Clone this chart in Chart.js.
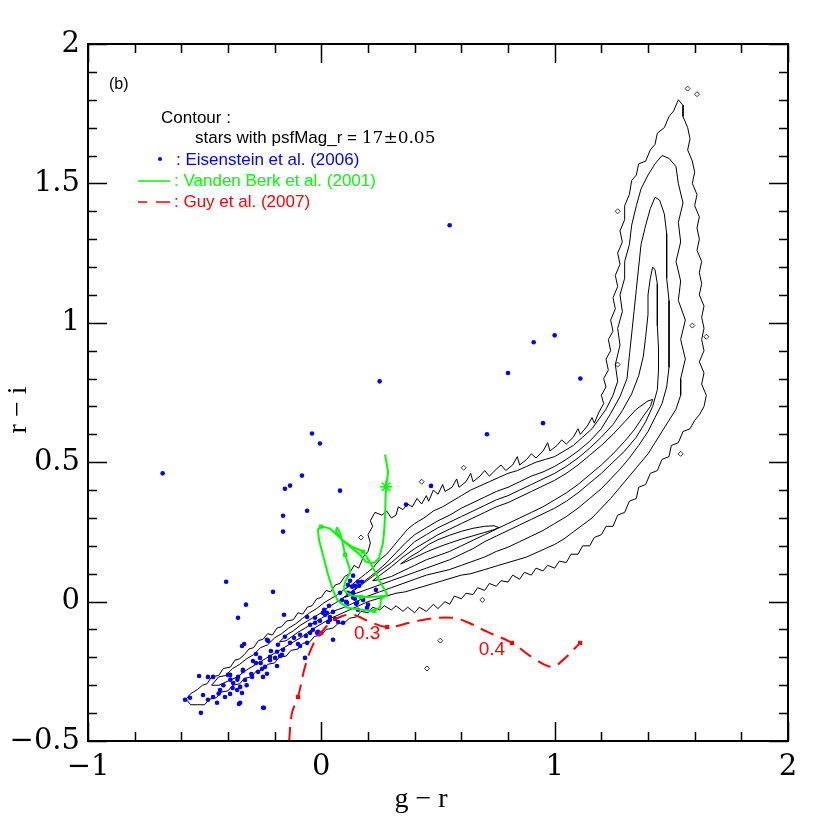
<!DOCTYPE html>
<html>
<head>
<meta charset="utf-8">
<script src="https://cdn.jsdelivr.net/npm/chart.js@4.4.0/dist/chart.umd.min.js"></script>
<style>
  html, body { margin: 0; padding: 0; background: #fff; }
  #wrap { width: 830px; height: 830px; }
</style>
</head>
<body>
<div id="wrap"><canvas id="ccd" width="830" height="830"></canvas></div>
<script>
// axis ticks
const xTickVals = [-1, 0, 1, 2];
const xTickLabels = ["\u22121", "0", "1", "2"];
const yTickVals = [-0.5, 0, 0.5, 1, 1.5, 2];
const yTickLabels = ["\u22120.5", "0", "0.5", "1", "1.5", "2"];

// Eisenstein et al. (2006) objects, [g-r, r-i]
const eisenstein = [
  [-0.68, 0.46], [0.55, 1.35], [1.00, 0.955], [0.91, 0.93], [1.11, 0.80], [0.80, 0.82], [0.25, 0.79],
  [0.71, 0.60], [0.95, 0.64], [0.47, 0.415], [0.363, 0.348],
  [-0.04, 0.603], [-0.006, 0.567], [-0.083, 0.452], [-0.134, 0.416], [-0.156, 0.405], [0.08, 0.398],
  [-0.061, 0.326], [-0.164, 0.308], [-0.164, 0.251],
  [-0.408, 0.071], [-0.207, 0.035], [-0.323, -0.011], [-0.357, -0.058], [-0.16, -0.047],
  [-0.233, -0.137], [-0.228, -0.141], [-0.34, -0.159], [-0.331, -0.152], [-0.293, -0.213], [-0.28, -0.188],
  [-0.263, -0.202], [-0.22, -0.198], [-0.216, -0.177], [-0.19, -0.18], [-0.19, -0.231], [-0.177, -0.195],
  [-0.241, -0.234], [-0.254, -0.241], [-0.271, -0.252], [-0.25, -0.27], [-0.233, -0.259], [-0.297, -0.27],
  [-0.336, -0.245], [-0.327, -0.281], [-0.357, -0.27], [-0.378, -0.292], [-0.348, -0.306], [-0.361, -0.317],
  [-0.34, -0.328], [-0.391, -0.331], [-0.40, -0.263], [-0.464, -0.27], [-0.486, -0.27], [-0.434, -0.317],
  [-0.464, -0.342], [-0.486, -0.352], [-0.507, -0.335], [-0.447, -0.363], [-0.413, -0.342], [-0.348, -0.363],
  [-0.25, -0.381], [-0.42, -0.30], [-0.38, -0.31], [-0.44, -0.33], [-0.36, -0.28], [-0.39, -0.28],
  [-0.32, -0.30], [-0.30, -0.26], [-0.28, -0.22], [-0.26, -0.22], [-0.22, -0.21],
  [-0.10, -0.152], [-0.091, -0.119], [-0.066, -0.123], [-0.048, -0.112], [-0.036, -0.101], [-0.018, -0.112],
  [-0.014, -0.108], [-0.027, -0.076], [-0.006, -0.069], [0.012, -0.029], [0.024, -0.04], [0.037, -0.055],
  [0.05, -0.037], [0.059, -0.062], [0.072, -0.073], [0.093, -0.076], [0.029, -0.073], [0.05, -0.137],
  [-0.07, -0.202], [-0.156, -0.126], [-0.134, -0.148], [-0.117, -0.13], [-0.186, -0.155], [-0.164, -0.173],
  [-0.198, -0.202], [-0.091, -0.159], [-0.048, -0.083], [-0.061, -0.148], [-0.027, -0.058],
  [0.114, 0.032], [0.132, 0.053], [0.157, 0.071], [0.08, 0.032], [0.136, 0.014], [0.153, -0.004],
  [0.179, 0.006], [0.196, -0.022], [0.157, -0.029], [0.11, -0.004], [0.089, 0.006],
  [-0.524, -0.267], [-0.584, -0.352], [-0.563, -0.345], [-0.516, -0.399], [-0.246, -0.381], [-0.353, -0.367],
  [-0.391, -0.263], [-0.336, -0.249], [0.016, -0.047],
  [0.136, 0.093], [0.174, 0.071], [0.123, 0.075], [0.144, 0.057], [0.162, 0.057], [0.234, 0.042],
  [0.136, 0.032], [0.106, -0.001], [0.144, 0.01], [0.149, -0.008], [0.2, -0.011], [0.033, -0.015],
  [-0.061, -0.055], [0.007, -0.04], [0.037, -0.065], [-0.169, -0.191], [0.114, 0.06]
];

// Vanden Berk et al. (2001) composite track
const vandenBerk = [
  [0.273, 0.527], [0.286, 0.463], [0.277, 0.412], [0.273, 0.305], [0.264, 0.211], [0.247, 0.157],
  [0.226, 0.139], [0.191, 0.143], [0.166, 0.168], [0.123, 0.197], [0.080, 0.229], [0.037, 0.262],
  [-0.001, 0.269], [-0.014, 0.258], [-0.010, 0.222], [0.007, 0.168], [0.029, 0.096], [0.050, 0.042],
  [0.072, 0.003], [0.114, -0.022], [0.174, -0.029], [0.226, -0.033], [0.252, -0.019], [0.256, 0.010],
  [0.282, 0.024], [0.252, 0.071], [0.217, 0.129], [0.179, 0.179], [0.132, 0.197], [0.089, 0.222],
  [0.063, 0.254], [0.067, 0.265], [0.080, 0.247], [0.093, 0.204], [0.102, 0.168], [0.119, 0.125],
  [0.123, 0.103], [0.102, 0.071], [0.097, 0.042], [0.123, 0.024], [0.170, 0.017], [0.217, 0.017],
  [0.273, 0.021]
];
const vandenBerkSquares = [[-0.001, 0.269], [0.179, 0.179], [0.102, 0.168], [0.170, 0.017], [0.226, -0.033]];
const vandenBerkStar = [[0.277, 0.412]];

// Guy et al. (2007) track
const guy = [
  [-0.138, -0.50], [-0.126, -0.400], [-0.100, -0.342], [-0.070, -0.234], [-0.036, -0.155], [-0.001, -0.112],
  [0.037, -0.076], [0.080, -0.055], [0.136, -0.047], [0.209, -0.073], [0.282, -0.091], [0.393, -0.073],
  [0.457, -0.062], [0.564, -0.058], [0.624, -0.073], [0.710, -0.108], [0.817, -0.148], [0.907, -0.202],
  [0.989, -0.234], [1.036, -0.209], [1.109, -0.148]
];
const guySquares = [[-0.100, -0.342], [-0.001, -0.112], [0.282, -0.091], [0.817, -0.148], [1.109, -0.148]];
const guyLabels = [{ at: 2, text: "0.3" }, { at: 3, text: "0.4" }];

// stellar locus contours, outer to inner
const contourA = [
  [-0.58, -0.35], [-0.56, -0.33], [-0.53, -0.315], [-0.51, -0.30], [-0.49, -0.295], [-0.47, -0.27], [-0.44, -0.265],
  [-0.42, -0.24], [-0.39, -0.235], [-0.37, -0.21], [-0.35, -0.205], [-0.33, -0.19], [-0.31, -0.17], [-0.29, -0.165],
  [-0.27, -0.14], [-0.25, -0.135], [-0.23, -0.115], [-0.21, -0.12], [-0.19, -0.095], [-0.17, -0.09], [-0.15, -0.07],
  [-0.12, -0.065], [-0.10, -0.04], [-0.08, -0.045], [-0.06, -0.02], [-0.04, -0.015], [-0.02, 0.01], [0.00, 0.015],
  [0.02, 0.04], [0.04, 0.035], [0.06, 0.06], [0.08, 0.065], [0.10, 0.09], [0.12, 0.10], [0.14, 0.13], [0.16, 0.12],
  [0.18, 0.16], [0.20, 0.18], [0.21, 0.21], [0.20, 0.24], [0.22, 0.27], [0.21, 0.29], [0.23, 0.32], [0.26, 0.31],
  [0.28, 0.325], [0.30, 0.30], [0.32, 0.31], [0.33, 0.34], [0.35, 0.33], [0.37, 0.35], [0.39, 0.34], [0.41, 0.37],
  [0.43, 0.35], [0.45, 0.38], [0.46, 0.36], [0.48, 0.40], [0.50, 0.385], [0.52, 0.42], [0.53, 0.395], [0.56, 0.41],
  [0.58, 0.44], [0.59, 0.41], [0.62, 0.43], [0.64, 0.46], [0.65, 0.43], [0.68, 0.45], [0.70, 0.47], [0.72, 0.45],
  [0.75, 0.475], [0.77, 0.49], [0.79, 0.47], [0.82, 0.49], [0.84, 0.52], [0.85, 0.49], [0.88, 0.51], [0.90, 0.53],
  [0.92, 0.515], [0.95, 0.54], [0.97, 0.57], [0.98, 0.54], [1.01, 0.56], [1.03, 0.58], [1.05, 0.565], [1.08, 0.59],
  [1.10, 0.62], [1.11, 0.60], [1.14, 0.63], [1.16, 0.66], [1.17, 0.64], [1.19, 0.68], [1.21, 0.71], [1.20, 0.74],
  [1.22, 0.77], [1.21, 0.80], [1.23, 0.83], [1.22, 0.87], [1.24, 0.90], [1.23, 0.94], [1.25, 0.97], [1.24, 1.01],
  [1.26, 1.05], [1.25, 1.09], [1.27, 1.13], [1.26, 1.17], [1.28, 1.21], [1.27, 1.25], [1.29, 1.29], [1.28, 1.33],
  [1.30, 1.37], [1.30, 1.42], [1.32, 1.46], [1.33, 1.51], [1.35, 1.53], [1.36, 1.57], [1.39, 1.58], [1.41, 1.62],
  [1.43, 1.64], [1.44, 1.68], [1.47, 1.70], [1.49, 1.74], [1.51, 1.76], [1.53, 1.80],
  [1.55, 1.78], [1.55, 1.74], [1.57, 1.70], [1.58, 1.66], [1.57, 1.62], [1.59, 1.58], [1.60, 1.54], [1.59, 1.50],
  [1.61, 1.46], [1.60, 1.42], [1.62, 1.38], [1.61, 1.34], [1.62, 1.30], [1.61, 1.26], [1.63, 1.22], [1.62, 1.18],
  [1.63, 1.14], [1.62, 1.10], [1.64, 1.06], [1.63, 1.02], [1.64, 0.98], [1.63, 0.94], [1.64, 0.90], [1.62, 0.86],
  [1.64, 0.82], [1.63, 0.78], [1.65, 0.74], [1.64, 0.70], [1.62, 0.67], [1.60, 0.65], [1.58, 0.62], [1.55, 0.61],
  [1.53, 0.57], [1.50, 0.56], [1.49, 0.52], [1.46, 0.51], [1.44, 0.47], [1.41, 0.46], [1.39, 0.42], [1.36, 0.41],
  [1.35, 0.37], [1.32, 0.36], [1.30, 0.32], [1.27, 0.31], [1.25, 0.27], [1.22, 0.27], [1.20, 0.24], [1.17, 0.23],
  [1.15, 0.20], [1.12, 0.20], [1.10, 0.17], [1.07, 0.17], [1.05, 0.14], [1.02, 0.145], [1.00, 0.12], [0.97, 0.13],
  [0.95, 0.11], [0.92, 0.12], [0.90, 0.095], [0.87, 0.105], [0.85, 0.08], [0.82, 0.095], [0.80, 0.07], [0.77, 0.075],
  [0.75, 0.055], [0.72, 0.065], [0.70, 0.04], [0.67, 0.05], [0.65, 0.025], [0.62, 0.03], [0.60, 0.01], [0.57, 0.02],
  [0.55, -0.01], [0.53, 0.00], [0.50, -0.025], [0.48, -0.01], [0.45, -0.035], [0.42, -0.02], [0.40, -0.04],
  [0.37, -0.02], [0.35, -0.035], [0.32, -0.015], [0.30, -0.03], [0.27, -0.015], [0.25, -0.03], [0.22, -0.02],
  [0.20, -0.04], [0.17, -0.035], [0.15, -0.055], [0.12, -0.06], [0.10, -0.075], [0.07, -0.08], [0.05, -0.095],
  [0.02, -0.10], [0.00, -0.12], [-0.03, -0.125], [-0.05, -0.145], [-0.08, -0.15], [-0.10, -0.17], [-0.13, -0.175],
  [-0.15, -0.195], [-0.18, -0.20], [-0.20, -0.22], [-0.23, -0.225], [-0.25, -0.245], [-0.28, -0.25], [-0.30, -0.27],
  [-0.33, -0.275], [-0.35, -0.295], [-0.38, -0.30], [-0.40, -0.32], [-0.43, -0.325], [-0.45, -0.345], [-0.48, -0.35],
  [-0.50, -0.37], [-0.53, -0.37], [-0.56, -0.37], [-0.58, -0.35]
];
const contourB = [
  [-0.47, -0.30], [-0.44, -0.27], [-0.41, -0.265], [-0.38, -0.24], [-0.35, -0.225], [-0.32, -0.205], [-0.29, -0.19],
  [-0.26, -0.165], [-0.23, -0.155], [-0.20, -0.13], [-0.17, -0.115], [-0.14, -0.095], [-0.11, -0.08], [-0.08, -0.06],
  [-0.05, -0.04], [-0.02, -0.025], [0.01, -0.005], [0.04, 0.01], [0.07, 0.025], [0.10, 0.045], [0.13, 0.06],
  [0.16, 0.08], [0.19, 0.10], [0.22, 0.12], [0.25, 0.15], [0.28, 0.17], [0.31, 0.20], [0.34, 0.23], [0.37, 0.26],
  [0.40, 0.28], [0.44, 0.30], [0.48, 0.325], [0.52, 0.34], [0.56, 0.36], [0.60, 0.38], [0.64, 0.40], [0.68, 0.415],
  [0.72, 0.43], [0.76, 0.445], [0.80, 0.46], [0.84, 0.47], [0.88, 0.485], [0.92, 0.50], [0.96, 0.51], [1.00, 0.52],
  [1.04, 0.54], [1.08, 0.56], [1.12, 0.59], [1.16, 0.62], [1.19, 0.655], [1.22, 0.69], [1.25, 0.74], [1.27, 0.79],
  [1.26, 0.85], [1.28, 0.92], [1.27, 0.98], [1.29, 1.04], [1.28, 1.10], [1.30, 1.16], [1.30, 1.22], [1.32, 1.28],
  [1.33, 1.35], [1.35, 1.42], [1.37, 1.48], [1.40, 1.53], [1.43, 1.57], [1.46, 1.60],
  [1.49, 1.59], [1.52, 1.56], [1.53, 1.50], [1.55, 1.43], [1.53, 1.36], [1.54, 1.29], [1.52, 1.22], [1.54, 1.15],
  [1.53, 1.08], [1.56, 1.01], [1.54, 0.94], [1.56, 0.87], [1.54, 0.80], [1.54, 0.74], [1.52, 0.69], [1.49, 0.65],
  [1.46, 0.61], [1.43, 0.57], [1.40, 0.53], [1.36, 0.49], [1.32, 0.45], [1.28, 0.41], [1.24, 0.37], [1.20, 0.335],
  [1.16, 0.30], [1.12, 0.275], [1.08, 0.25], [1.04, 0.225], [1.00, 0.205], [0.96, 0.19], [0.92, 0.175], [0.88, 0.16],
  [0.84, 0.15], [0.80, 0.14], [0.76, 0.13], [0.72, 0.12], [0.68, 0.11], [0.64, 0.10], [0.60, 0.095], [0.56, 0.085],
  [0.52, 0.075], [0.48, 0.065], [0.44, 0.055], [0.40, 0.045], [0.36, 0.035], [0.32, 0.03], [0.28, 0.02], [0.24, 0.01],
  [0.20, 0.00], [0.16, -0.015], [0.12, -0.03], [0.08, -0.045], [0.04, -0.06], [0.00, -0.08], [-0.04, -0.10],
  [-0.08, -0.125], [-0.12, -0.145], [-0.16, -0.165], [-0.20, -0.185], [-0.24, -0.205], [-0.28, -0.225],
  [-0.32, -0.245], [-0.36, -0.27], [-0.40, -0.285], [-0.44, -0.30], [-0.47, -0.30]
];
const contourC = [
  [-0.18, -0.145], [-0.15, -0.12], [-0.12, -0.105], [-0.09, -0.085], [-0.06, -0.07], [-0.03, -0.055], [0.00, -0.04],
  [0.03, -0.02], [0.06, -0.005], [0.09, 0.012], [0.12, 0.03], [0.15, 0.05], [0.18, 0.07], [0.21, 0.09], [0.24, 0.11],
  [0.28, 0.14], [0.32, 0.175], [0.36, 0.21], [0.40, 0.24], [0.45, 0.265], [0.50, 0.29], [0.55, 0.31], [0.60, 0.335],
  [0.65, 0.355], [0.70, 0.375], [0.75, 0.395], [0.80, 0.41], [0.85, 0.43], [0.90, 0.45], [0.95, 0.465], [1.00, 0.485],
  [1.05, 0.51], [1.10, 0.54], [1.15, 0.575], [1.20, 0.62], [1.24, 0.675], [1.28, 0.735], [1.31, 0.80], [1.32, 0.88],
  [1.33, 0.96], [1.34, 1.04], [1.35, 1.12], [1.36, 1.20], [1.37, 1.28], [1.39, 1.35], [1.41, 1.41], [1.43, 1.45],
  [1.45, 1.44], [1.47, 1.39], [1.48, 1.32], [1.48, 1.24], [1.48, 1.16], [1.49, 1.08], [1.49, 1.00], [1.49, 0.92],
  [1.49, 0.84], [1.48, 0.77], [1.46, 0.71], [1.43, 0.66], [1.40, 0.61], [1.36, 0.56], [1.32, 0.515], [1.28, 0.475],
  [1.24, 0.44], [1.20, 0.405], [1.15, 0.37], [1.10, 0.335], [1.05, 0.305], [1.00, 0.28], [0.95, 0.255], [0.90, 0.235],
  [0.85, 0.215], [0.80, 0.195], [0.75, 0.18], [0.70, 0.16], [0.65, 0.145], [0.60, 0.13], [0.55, 0.115], [0.50, 0.105],
  [0.45, 0.095], [0.40, 0.08], [0.35, 0.065], [0.30, 0.05], [0.25, 0.035], [0.20, 0.02], [0.15, 0.00], [0.10, -0.02],
  [0.05, -0.035], [0.00, -0.06], [-0.05, -0.085], [-0.10, -0.11], [-0.15, -0.14], [-0.18, -0.145]
];
const contourD = [
  [0.10, 0.015], [0.14, 0.04], [0.18, 0.065], [0.22, 0.09], [0.26, 0.115], [0.30, 0.14], [0.35, 0.175], [0.40, 0.215],
  [0.45, 0.24], [0.50, 0.265], [0.55, 0.285], [0.60, 0.305], [0.65, 0.325], [0.70, 0.345], [0.75, 0.365], [0.80, 0.38],
  [0.85, 0.40], [0.90, 0.42], [0.95, 0.44], [1.00, 0.46], [1.05, 0.485], [1.10, 0.515], [1.15, 0.55], [1.20, 0.59],
  [1.25, 0.635], [1.29, 0.685], [1.33, 0.745], [1.36, 0.81], [1.38, 0.88], [1.39, 0.95], [1.40, 1.03], [1.40, 1.10],
  [1.41, 1.16], [1.42, 1.20],
  [1.43, 1.19], [1.44, 1.14], [1.44, 1.07], [1.44, 0.99], [1.445, 0.91], [1.445, 0.83], [1.44, 0.76], [1.42, 0.70],
  [1.39, 0.645], [1.35, 0.59], [1.30, 0.54], [1.25, 0.50], [1.20, 0.46], [1.15, 0.425], [1.10, 0.39], [1.05, 0.36],
  [1.00, 0.335], [0.95, 0.315], [0.90, 0.295], [0.85, 0.275], [0.80, 0.255], [0.75, 0.235], [0.70, 0.215],
  [0.65, 0.19], [0.60, 0.17], [0.55, 0.15], [0.50, 0.135], [0.45, 0.12], [0.40, 0.105], [0.35, 0.09], [0.30, 0.075],
  [0.25, 0.06], [0.20, 0.045], [0.15, 0.03], [0.10, 0.015]
];
const contourE = [
  [0.22, 0.075], [0.26, 0.10], [0.30, 0.125], [0.35, 0.16], [0.40, 0.19], [0.45, 0.215], [0.50, 0.24], [0.55, 0.26],
  [0.60, 0.28], [0.65, 0.30], [0.70, 0.32], [0.75, 0.34], [0.80, 0.355], [0.85, 0.375], [0.90, 0.395], [0.95, 0.415],
  [1.00, 0.435], [1.05, 0.46], [1.10, 0.49], [1.15, 0.525], [1.20, 0.56], [1.25, 0.60], [1.30, 0.645], [1.35, 0.69],
  [1.40, 0.72], [1.42, 0.725],
  [1.41, 0.70], [1.38, 0.665], [1.34, 0.615], [1.30, 0.575], [1.25, 0.53], [1.20, 0.49], [1.15, 0.455], [1.10, 0.42],
  [1.05, 0.39], [1.00, 0.365], [0.95, 0.34], [0.90, 0.32], [0.85, 0.30], [0.80, 0.28], [0.75, 0.26], [0.70, 0.24],
  [0.65, 0.22], [0.60, 0.20], [0.55, 0.18], [0.50, 0.165], [0.45, 0.15], [0.40, 0.13], [0.35, 0.11], [0.30, 0.09],
  [0.26, 0.08], [0.22, 0.075]
];
const contourF = [
  [0.34, 0.135], [0.38, 0.16], [0.42, 0.18], [0.46, 0.205], [0.50, 0.222], [0.55, 0.238], [0.60, 0.252], [0.65, 0.263],
  [0.70, 0.27], [0.74, 0.272], [0.76, 0.266], [0.74, 0.258], [0.70, 0.248], [0.65, 0.236], [0.60, 0.224], [0.55, 0.21],
  [0.50, 0.195], [0.45, 0.178], [0.40, 0.158], [0.36, 0.142], [0.34, 0.135]
];
// small isolated contour islands
const islands = [
  [0.453, -0.24], [0.51, -0.14], [0.17, 0.23], [0.43, 0.43], [0.61, 0.48], [1.27, 0.85], [1.54, 0.53],
  [1.65, 0.95], [1.27, 1.40], [1.57, 1.84], [1.61, 1.82], [0.69, 0.006], [1.59, 0.99]
];

const BLUE = "#0000ff", GREEN = "#00ff00", RED = "#ff0000";
const toXY = arr => arr.map(([x, y]) => ({ x, y }));
const tickText = (v, vals, labels) => {
  const i = vals.findIndex(t => Math.abs(t - v) < 1e-6);
  return i >= 0 ? labels[i] : "";
};

const contourSets = [contourA, contourB, contourC, contourD, contourE, contourF].map((c, i) => ({
  label: "contour" + i,
  data: toXY(c),
  showLine: true,
  borderColor: "#000",
  borderWidth: 1,
  pointRadius: 0,
  tension: 0,
  order: 10,
}));

// frame, inward ticks on all four sides
const frameTicks = {
  id: "frameTicks",
  afterDraw(chart) {
    const { ctx, chartArea: a, scales: { x, y } } = chart;
    ctx.save();
    ctx.strokeStyle = "#000";
    ctx.lineWidth = 1.5;
    ctx.beginPath();
    x.ticks.forEach(t => {
      const px = Math.round(x.getPixelForValue(t.value)) + 0.5;
      const len = tickText(t.value, xTickVals, xTickLabels) ? 19 : 9;
      ctx.moveTo(px, a.bottom); ctx.lineTo(px, a.bottom - len);
      ctx.moveTo(px, a.top); ctx.lineTo(px, a.top + len);
    });
    y.ticks.forEach(t => {
      const py = Math.round(y.getPixelForValue(t.value)) + 0.5;
      const len = tickText(t.value, yTickVals, yTickLabels) ? 19 : 9;
      ctx.moveTo(a.left, py); ctx.lineTo(a.left + len, py);
      ctx.moveTo(a.right, py); ctx.lineTo(a.right - len, py);
    });
    ctx.stroke();
    ctx.lineWidth = 2;
    ctx.strokeRect(a.left, a.top, a.right - a.left, a.bottom - a.top);

    // axis titles
    ctx.fillStyle = "#000";
    ctx.font = '28px "Liberation Serif"';
    ctx.textAlign = "center";
    ctx.textBaseline = "middle";
    ctx.fillText("g \u2212 r", 421, 800);
    ctx.save();
    ctx.translate(19, 410);
    ctx.rotate(-Math.PI / 2);
    ctx.fillText("r \u2212 i", 0, 0);
    ctx.restore();
    ctx.restore();
  },
};

// legend block and redshift labels
const annotations = {
  id: "annotations",
  afterDatasetsDraw(chart) {
    const { ctx, scales: { x, y } } = chart;
    ctx.save();
    ctx.textAlign = "left";
    ctx.textBaseline = "middle";
    ctx.fillStyle = "#000";
    ctx.font = '16px "Liberation Sans"';
    ctx.fillText("(b)", 109, 85);
    ctx.font = '17px "Liberation Sans"';
    ctx.fillText("Contour :", 161, 118);
    const s = "stars with psfMag_r = ";
    ctx.fillText(s, 195, 138);
    const w = ctx.measureText(s).width;
    ctx.font = '17px "DejaVu Serif"';
    ctx.fillText("17\u00b10.05", 195 + w, 139);

    ctx.font = '17px "Liberation Sans"';
    ctx.fillStyle = BLUE;
    ctx.beginPath();
    ctx.arc(160, 159, 2, 0, Math.PI * 2);
    ctx.fill();
    ctx.fillText(": Eisenstein et al. (2006)", 176, 160);

    ctx.strokeStyle = GREEN;
    ctx.lineWidth = 1.5;
    ctx.beginPath();
    ctx.moveTo(138, 181); ctx.lineTo(170, 181);
    ctx.stroke();
    ctx.fillStyle = GREEN;
    ctx.fillText(": Vanden Berk et al. (2001)", 174, 181);

    ctx.strokeStyle = RED;
    ctx.beginPath();
    ctx.moveTo(138, 202); ctx.lineTo(147, 202);
    ctx.moveTo(156, 202); ctx.lineTo(170, 202);
    ctx.stroke();
    ctx.fillStyle = RED;
    ctx.fillText(": Guy et al. (2007)", 174, 202);

    ctx.textAlign = "center";
    ctx.font = '19px "Liberation Sans"';
    guyLabels.forEach(l => {
      const [gx, gy] = guySquares[l.at];
      ctx.fillText(l.text, x.getPixelForValue(gx) - 20, y.getPixelForValue(gy) + 7);
    });
    ctx.restore();
  },
};

new Chart(document.getElementById("ccd"), {
  type: "scatter",
  data: {
    datasets: [
      ...contourSets,
      {
        label: "islands",
        data: toXY(islands),
        pointStyle: "rectRot",
        pointRadius: 2.5,
        backgroundColor: "rgba(0,0,0,0)",
        borderColor: "#000",
        borderWidth: 0.8,
        order: 9,
      },
      {
        label: "Eisenstein et al. (2006)",
        data: toXY(eisenstein),
        pointRadius: 2.3,
        backgroundColor: BLUE,
        borderWidth: 0,
        order: 5,
      },
      {
        label: "Vanden Berk et al. (2001)",
        data: toXY(vandenBerk),
        showLine: true,
        borderColor: GREEN,
        borderWidth: 2,
        pointRadius: 0,
        tension: 0.1,
        order: 4,
      },
      {
        label: "vb squares",
        data: toXY(vandenBerkSquares),
        pointStyle: "rect",
        pointRadius: 3,
        backgroundColor: GREEN,
        borderWidth: 0,
        order: 3,
      },
      {
        label: "vb star",
        data: toXY(vandenBerkStar),
        pointStyle: "star",
        pointRadius: 6,
        borderColor: GREEN,
        borderWidth: 1.5,
        order: 3,
      },
      {
        label: "Guy et al. (2007)",
        data: toXY(guy),
        showLine: true,
        borderColor: RED,
        borderWidth: 2,
        borderDash: [14, 8],
        pointRadius: 0,
        tension: 0.4,
        order: 2,
      },
      {
        label: "guy squares",
        data: toXY(guySquares),
        pointStyle: "rect",
        pointRadius: 3,
        backgroundColor: RED,
        borderWidth: 0,
        order: 1,
      },
    ],
  },
  options: {
    responsive: false,
    animation: false,
    devicePixelRatio: 1,
    layout: { padding: { left: 0, right: 42, top: 44, bottom: 0 } },
    plugins: {
      legend: { display: false },
      tooltip: { enabled: false },
    },
    scales: {
      x: {
        type: "linear",
        min: -1,
        max: 2,
        grid: { display: false, drawTicks: false },
        border: { display: false },
        ticks: {
          stepSize: 0.2,
          autoSkip: false,
          maxRotation: 0,
          padding: 9,
          color: "#000",
          font: { family: "DejaVu Serif", size: 29 },
          callback: v => tickText(v, xTickVals, xTickLabels),
        },
        afterFit: s => { s.height = 89; },
      },
      y: {
        type: "linear",
        min: -0.5,
        max: 2,
        grid: { display: false, drawTicks: false },
        border: { display: false },
        ticks: {
          stepSize: 0.1,
          autoSkip: false,
          padding: 8,
          color: "#000",
          font: { family: "DejaVu Serif", size: 29 },
          callback: v => tickText(v, yTickVals, yTickLabels),
        },
        afterFit: s => { s.width = 88; },
      },
    },
  },
  plugins: [frameTicks, annotations],
});
</script>
</body>
</html>
